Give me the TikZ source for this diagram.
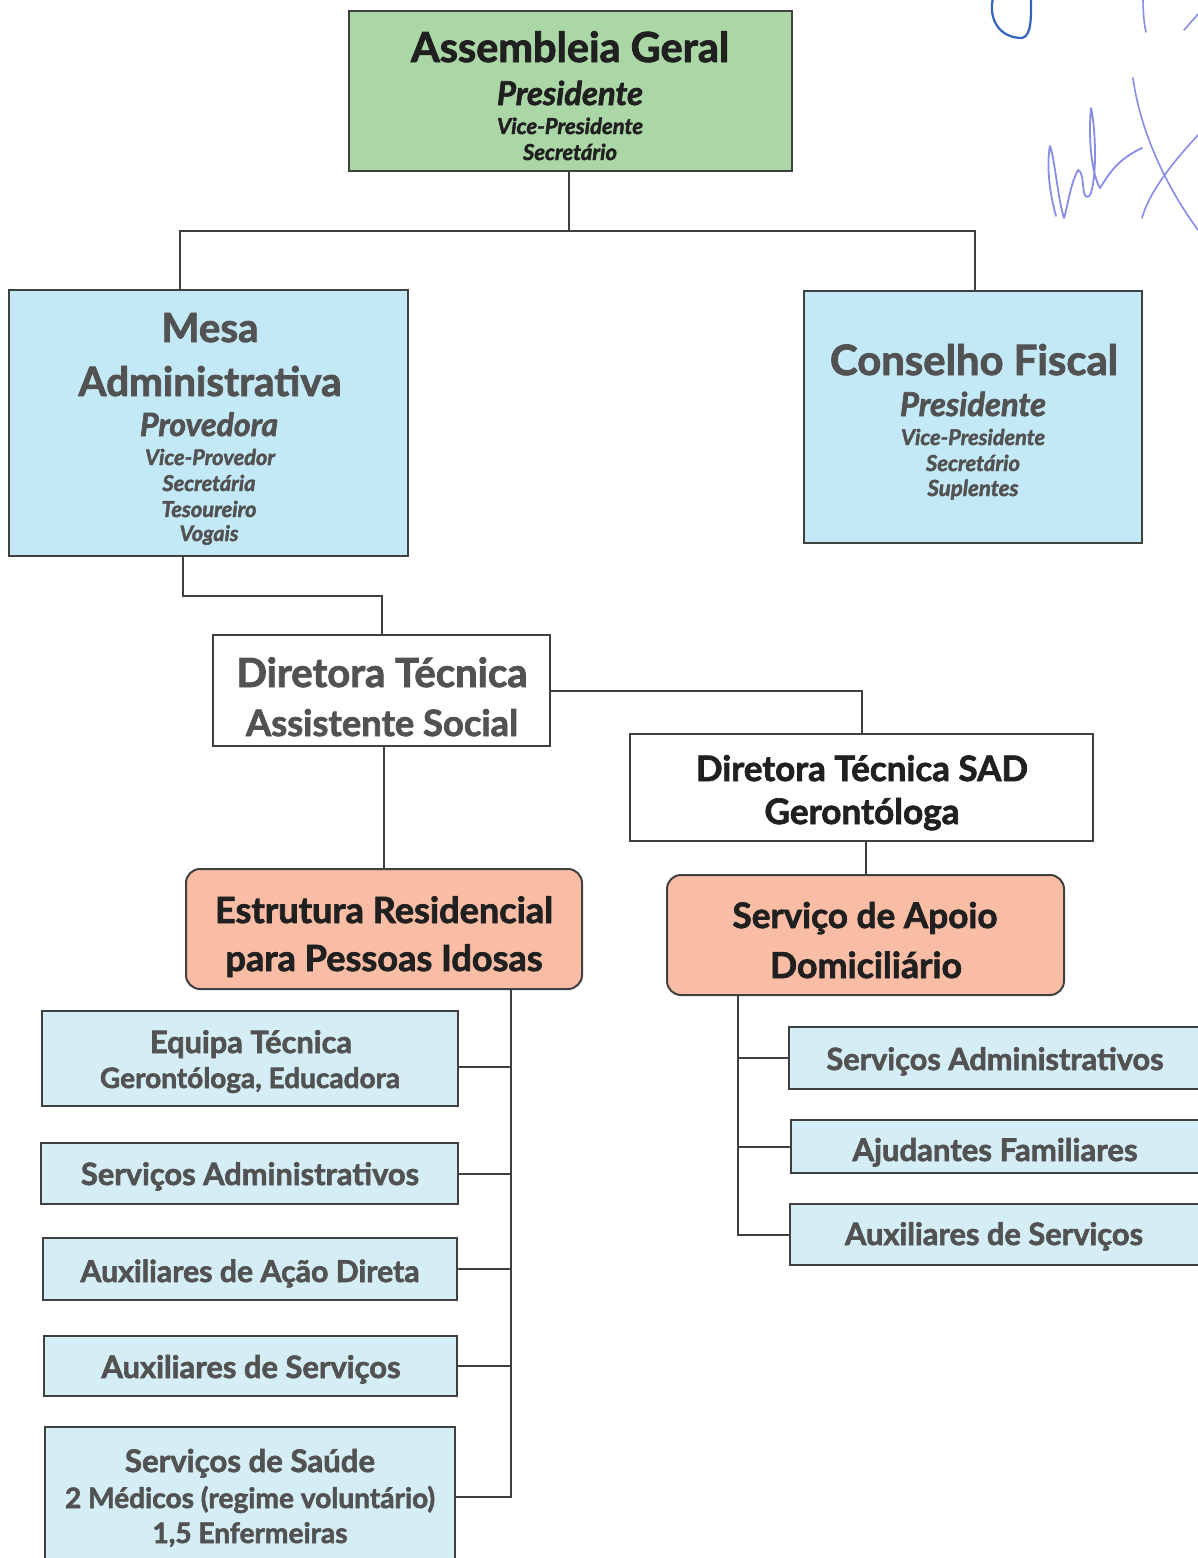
\documentclass[tikz,border=0pt]{standalone}
\usepackage{fontspec}
\setmainfont{Lato}[BoldFeatures={FakeBold=2}, BoldItalicFeatures={FakeBold=2}]
\usepackage{graphicx}
\definecolor{agfill}{RGB}{171,215,166}
\definecolor{bluefill}{RGB}{196,233,246}
\definecolor{paleblue}{RGB}{213,238,246}
\definecolor{salmon}{RGB}{249,189,166}
\definecolor{linec}{RGB}{64,64,64}
\definecolor{darktext}{RGB}{32,32,32}
\definecolor{graytext}{RGB}{82,82,82}
\definecolor{inkA}{RGB}{50,100,190}
\definecolor{inkB}{RGB}{135,140,230}
\newcommand{\fitw}[2]{\resizebox{#1pt}{!}{#2}}
\begin{document}
\begin{tikzpicture}[x=1pt,y=-1pt,
  box/.style={draw=linec, line width=2pt, inner sep=0pt, rectangle},
  rbox/.style={box, rounded corners=14pt},
  conn/.style={draw=linec, line width=2pt},
  txt/.style={inner sep=0pt, anchor=base, font=\bfseries\fontsize{20}{24}\selectfont},
  dk/.style={txt, text=darktext},
  gy/.style={txt, text=graytext},
  ink/.style={line width=2.2pt, line cap=round, line join=round}]
\clip (0,0) rectangle (1198,1558);
\fill[white] (0,0) rectangle (1198,1558);

% ---- boxes ----
\node[box, fill=agfill, minimum width=443pt, minimum height=160pt] (ag) at (570.5,91) {};
\node[box, fill=bluefill, minimum width=399pt, minimum height=266pt] (mesa) at (208.5,423) {};
\node[box, fill=bluefill, minimum width=338pt, minimum height=252pt] (cf) at (973,417) {};
\node[box, fill=white, minimum width=337pt, minimum height=111pt] (dt) at (381.5,690.5) {};
\node[box, fill=white, minimum width=463pt, minimum height=107pt] (sad) at (861.5,787.5) {};
\node[rbox, fill=salmon, minimum width=396pt, minimum height=120pt] (erpi) at (384,929) {};
\node[rbox, fill=salmon, minimum width=397pt, minimum height=120pt] (sapd) at (865.5,935) {};
\node[box, fill=paleblue, minimum width=416pt, minimum height=95pt] (l1) at (250,1058.5) {};
\node[box, fill=paleblue, minimum width=417pt, minimum height=61pt] (l2) at (249.5,1173.5) {};
\node[box, fill=paleblue, minimum width=414pt, minimum height=62pt] (l3) at (250,1269) {};
\node[box, fill=paleblue, minimum width=413pt, minimum height=60pt] (l4) at (250.5,1366) {};
\node[box, fill=paleblue, minimum width=410pt, minimum height=160pt] (l5) at (250,1507) {};
\node[box, fill=paleblue, minimum width=426pt, minimum height=62pt] (r1) at (1002,1058) {};
\node[box, fill=paleblue, minimum width=424pt, minimum height=53pt] (r2) at (1003,1146.5) {};
\node[box, fill=paleblue, minimum width=425pt, minimum height=61pt] (r3) at (1002.5,1234.5) {};

% ---- connectors ----
\coordinate (jA) at (569,231);
\coordinate (mX) at (180,0);
\coordinate (cX) at (975,0);
\draw[conn] (ag.south -| jA) -- (jA);
\draw[conn] (mesa.north -| mX) |- (jA) -| (cf.north -| cX);
\coordinate (jB) at (183,596);
\draw[conn] (mesa.south -| jB) -- (jB) -| (dt.north);
\draw[conn] (dt.east) -| (sad.north);
\draw[conn] (erpi.north |- dt.south) -- (erpi.north);
\draw[conn] (sapd.north |- sad.south) -- (sapd.north);
% ERPI trunk
\coordinate (tL) at (511,0);
\coordinate (y1) at (0,1067);
\coordinate (y5) at (0,1497);
\draw[conn] (erpi.south -| tL) -- (tL |- y5) -- (l5.east |- y5);
\draw[conn] (l1.east |- y1) -- (tL |- y1);
\draw[conn] (l2.east) -- (l2.east -| tL);
\draw[conn] (l3.east) -- (l3.east -| tL);
\draw[conn] (l4.east) -- (l4.east -| tL);
% SAD trunk
\coordinate (tR) at (738,0);
\draw[conn] (sapd.south -| tR) |- (r3.west);
\draw[conn] (r1.west -| tR) -- (r1.west);
\draw[conn] (r2.west -| tR) -- (r2.west);

% ---- texts ----
\node[dk] (ag1) at (570,62) {\fitw{318}{Assembleia Geral}};
\node[dk] (ag2) at (570,105) {\fitw{146}{\itshape Presidente}};
\node[dk] (ag3) at (570,134) {\fitw{146}{\itshape Vice-Presidente}};
\node[dk] (ag4) at (570,160) {\fitw{94}{\itshape Secretário}};

\node[gy] (m1) at (210,342) {\fitw{97}{Mesa}};
\node[gy] (m2) at (210,396) {\fitw{263}{Administrativa}};
\node[gy] (m3) at (209,436) {\fitw{138}{\itshape Provedora}};
\node[gy] (m4) at (210,465) {\fitw{130}{\itshape Vice-Provedor}};
\node[gy] (m5) at (209,491) {\fitw{93}{\itshape Secretária}};
\node[gy] (m6) at (209,517) {\fitw{95}{\itshape Tesoureiro}};
\node[gy] (m7) at (209,541) {\fitw{59}{\itshape Vogais}};

\node[gy] (c1) at (974,375) {\fitw{288}{Conselho Fiscal}};
\node[gy] (c2) at (973,416) {\fitw{146}{\itshape Presidente}};
\node[gy] (c3) at (973,445) {\fitw{144}{\itshape Vice-Presidente}};
\node[gy] (c4) at (973,471) {\fitw{94}{\itshape Secretário}};
\node[gy] (c5) at (973,496) {\fitw{91}{\itshape Suplentes}};

\node[gy] (d1) at (382,687) {\fitw{291}{Diretora Técnica}};
\node[gy] (d2) at (382,736) {\fitw{272}{Assistente Social}};

\node[dk] (s1) at (862,781) {\fitw{332}{Diretora Técnica SAD}};
\node[dk] (s2) at (862,824) {\fitw{195}{Gerontóloga}};

\node[dk] (e1) at (384,923) {\fitw{338}{Estrutura Residencial}};
\node[dk] (e2) at (384,971) {\fitw{317}{para Pessoas Idosas}};

\node[dk] (a1) at (865,928) {\fitw{265}{Serviço de Apoio}};
\node[dk] (a2) at (866,978) {\fitw{192}{Domiciliário}};

\node[gy] (l1a) at (251,1053) {\fitw{202}{Equipa Técnica}};
\node[gy] (l1b) at (250,1088) {\fitw{300}{Gerontóloga, Educadora}};
\node[gy] (l2a) at (250,1185) {\fitw{338}{Serviços Administrativos}};
\node[gy] (l3a) at (250,1282) {\fitw{339}{Auxiliares de Ação Direta}};
\node[gy] (l4a) at (251,1378) {\fitw{299}{Auxiliares de Serviços}};
\node[gy] (l5a) at (250,1472) {\fitw{250}{Serviços de Saúde}};
\node[gy] (l5b) at (250,1508) {\fitw{370}{2 Médicos (regime voluntário)}};
\node[gy] (l5c) at (250,1543) {\fitw{195}{1,5 Enfermeiras}};

\node[gy] (r1a) at (995,1070) {\fitw{337}{Serviços Administrativos}};
\node[gy] (r2a) at (995,1161) {\fitw{285}{Ajudantes Familiares}};
\node[gy] (r3a) at (994,1245) {\fitw{298}{Auxiliares de Serviços}};

% ---- signature (handwritten ink) ----
\draw[ink, inkA] (993,-2) .. controls (988,20) and (1000,38) .. (1022,38) .. controls (1032,36) and (1031,15) .. (1031,-2);
\draw[ink, inkB, line width=1.6pt] (1143,-2) .. controls (1143,12) and (1144,24) .. (1146,32);
\draw[ink, inkB, line width=1.6pt] (1184,30) -- (1198,14);
\draw[ink, inkB, line width=1.8pt] (1056,216) .. controls (1050,195) and (1046,165) .. (1050,146) .. controls (1055,160) and (1058,200) .. (1064,218) .. controls (1068,205) and (1070,185) .. (1078,170) .. controls (1086,172) and (1080,205) .. (1090,195) .. controls (1097,180) and (1096,130) .. (1091,108) .. controls (1088,140) and (1092,175) .. (1100,188) .. controls (1108,176) and (1116,160) .. (1142,148);
\draw[ink, inkB, line width=1.6pt] (1133,78) .. controls (1140,130) and (1165,185) .. (1198,230);
\draw[ink, inkB, line width=1.6pt] (1142,218) .. controls (1150,190) and (1175,160) .. (1198,135);
\end{tikzpicture}
\end{document}
